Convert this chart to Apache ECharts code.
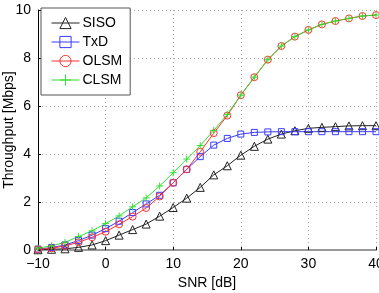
<!DOCTYPE html>
<html>
<head>
<meta charset="utf-8">
<script src="https://cdn.jsdelivr.net/npm/echarts@6/dist/echarts.min.js"></script>
<style>
html,body{margin:0;padding:0;background:#fff;}
#chart{width:379px;height:293px;}
</style>
</head>
<body>
<div id="chart"></div>
<script>
// SNR values in dB
var snr = [-10,-8,-6,-4,-2,0,2,4,6,8,10,12,14,16,18,20,22,24,26,28,30,32,34,36,38,40];
var siso = [0.01,0.03,0.05,0.11,0.21,0.39,0.62,0.85,1.08,1.41,1.77,2.16,2.61,3.13,3.51,3.95,4.32,4.62,4.83,4.97,5.07,5.11,5.14,5.17,5.18,5.18];
var txd = [0.04,0.10,0.21,0.39,0.62,0.89,1.20,1.56,1.92,2.28,2.80,3.36,3.89,4.37,4.65,4.83,4.90,4.92,4.93,4.93,4.93,4.93,4.93,4.93,4.93,4.93];
var olsm = [0.03,0.07,0.17,0.32,0.53,0.76,1.07,1.39,1.75,2.23,2.80,3.36,4.09,4.87,5.60,6.45,7.20,7.93,8.50,8.89,9.17,9.40,9.54,9.65,9.75,9.79];
var clsm = [0.08,0.17,0.32,0.56,0.80,1.10,1.42,1.80,2.17,2.67,3.22,3.79,4.35,4.98,5.65,6.45,7.20,7.93,8.50,8.89,9.17,9.40,9.54,9.65,9.75,9.79];
var xTicks = [-10,0,10,20,30,40];
var yTicks = [0,2,4,6,8,10];

var FONT = 'Liberation Sans';

function pairs(ys){
    return snr.map(function(x,i){ return [x, ys[i]]; });
}

function makeSeries(name, data, color, symbol, size){
    return {
        name: name,
        type: 'line',
        data: pairs(data),
        symbol: symbol,
        symbolSize: size,
        showAllSymbol: true,
        animation: false,
        lineStyle: { color: color, width: 1 },
        itemStyle: { color: 'rgba(255,255,255,0)', borderColor: color, borderWidth: 1 }
    };
}

var chart = echarts.init(document.getElementById('chart'));
var option = {
    backgroundColor: '#fff',
    animation: false,
    grid: { left: 38, right: 3, top: 10, bottom: 43, outerBoundsMode: 'none', containLabel: false },
    legend: {
        orient: 'vertical',
        left: 41,
        top: 8,
        backgroundColor: '#fff',
        borderColor: '#555',
        borderWidth: 1,
        borderRadius: 0,
        padding: [8, 8, 8, 10],
        itemGap: 5,
        itemWidth: 28,
        itemHeight: 14,
        lineStyle: { width: 1 },
        itemStyle: { borderWidth: 1 },
        textStyle: { fontFamily: FONT, fontSize: 14, color: '#000', padding: [0,0,0,-2] },
        data: ['SISO','TxD','OLSM','CLSM']
    },
    xAxis: {
        type: 'value',
        min: -10, max: 40, interval: 10,
        name: 'SNR [dB]',
        nameLocation: 'middle',
        nameGap: 24,
        nameTextStyle: { fontFamily: FONT, fontSize: 14, color: '#000' },
        axisLine: { show: true, onZero: false, lineStyle: { color: '#999', width: 2 } },
        axisTick: { show: true, inside: true, length: 3, lineStyle: { color: '#000' } },
        axisLabel: {
            fontFamily: FONT, fontSize: 14, color: '#000', margin: 7,
            formatter: function(v){ return xTicks.indexOf(v) >= 0 ? String(v).replace('-', '\u2212') : ''; }
        },
        splitLine: { show: true, lineStyle: { color: '#aaa', type: [1, 3] } }
    },
    yAxis: {
        type: 'value',
        min: 0, max: 10, interval: 2,
        name: 'Throughput [Mbps]',
        nameLocation: 'middle',
        nameGap: 22,
        nameMoveOverlap: false,
        nameTextStyle: { fontFamily: FONT, fontSize: 14, color: '#000' },
        axisLine: { show: true, onZero: false, lineStyle: { color: '#000', width: 1 } },
        axisTick: { show: true, inside: true, length: 3, lineStyle: { color: '#000' } },
        axisLabel: {
            fontFamily: FONT, fontSize: 14, color: '#000', margin: 7,
            formatter: function(v){ return yTicks.indexOf(v) >= 0 ? String(v) : ''; }
        },
        splitLine: { show: true, lineStyle: { color: '#aaa', type: [1, 3] } }
    },
    series: [
        makeSeries('SISO', siso, '#222', 'triangle', 8),
        makeSeries('TxD', txd, '#3a3aff', 'rect', 6),
        makeSeries('OLSM', olsm, '#ff3030', 'circle', 7),
        makeSeries('CLSM', clsm, '#33dd33', 'path://M0,5L10,5M5,0L5,10', 7)
    ]
};
chart.setOption(option);
</script>
</body>
</html>
